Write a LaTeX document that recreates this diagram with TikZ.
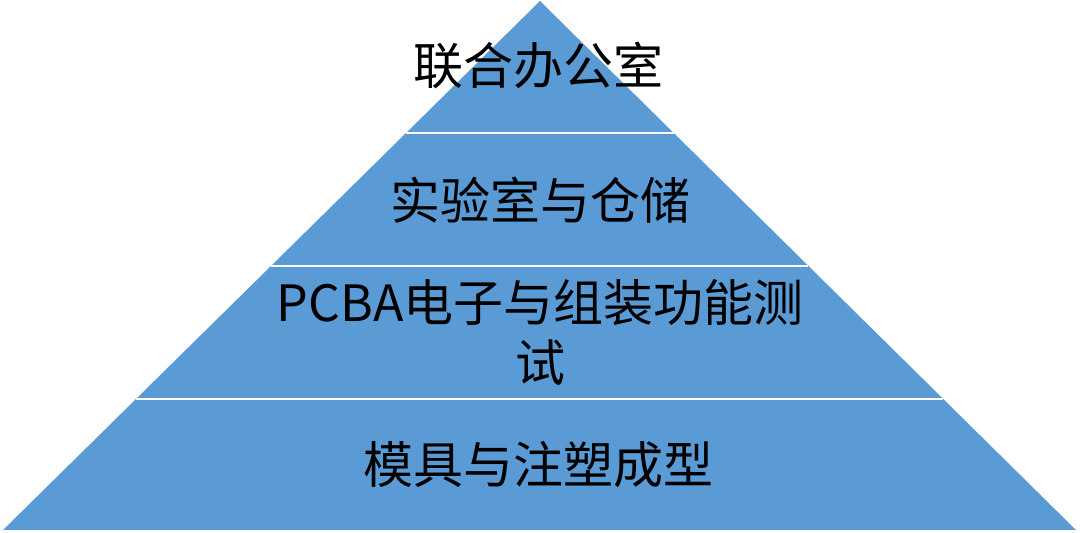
\documentclass[tikz,border=0pt]{standalone}
\usepackage{fontspec}
\newfontfamily\cjk{Noto Sans CJK SC}
\usetikzlibrary{calc}
\definecolor{pyblue}{HTML}{5B9BD5}
\tikzset{
  label text/.style={font=\cjk\fontsize{50}{60}\selectfont, text=black, align=center, inner sep=0pt},
  sep line/.style={draw=white, line width=1.5pt}
}
\begin{document}
\begin{tikzpicture}[x=1pt,y=1pt]
\useasboundingbox (0,0) rectangle (1080,533);
\coordinate (apex) at (540,532);
\coordinate (bl) at (3,3);
\coordinate (br) at (1076,3);
\fill[pyblue] (apex) -- (bl) -- (br) -- cycle;
% separators
\coordinate (l1) at ($(apex)!0.2495!(bl)$);
\coordinate (r1) at ($(apex)!0.2495!(br)$);
\coordinate (l2) at ($(apex)!0.5009!(bl)$);
\coordinate (r2) at ($(apex)!0.5009!(br)$);
\coordinate (l3) at ($(apex)!0.7524!(bl)$);
\coordinate (r3) at ($(apex)!0.7524!(br)$);
\draw[sep line] (l1) -- (r1);
\draw[sep line] (l2) -- (r2);
\draw[sep line] (l3) -- (r3);
% labels
\node[label text] (t1) at (538,468) {联合办公室};
\node[label text] (t2) at (540,333) {实验室与仓储};
\node[label text] (t3) at (540,201) {PCBA电子与组装功能测\\试};
\node[label text] (t4) at (538,68) {模具与注塑成型};
\end{tikzpicture}
\end{document}
